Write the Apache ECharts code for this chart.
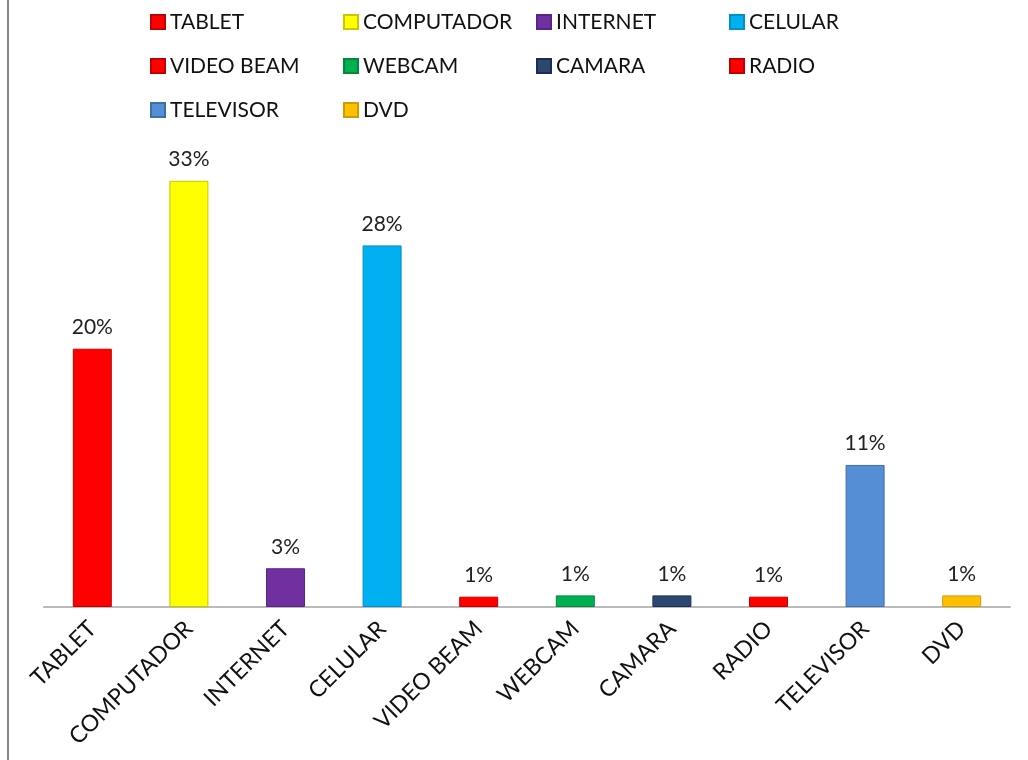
<!DOCTYPE html>
<html lang="es">
<head>
  <meta charset="UTF-8">
  <title>Recursos</title>
  <style>
    html, body { margin: 0; padding: 0; background: #fff; }
  </style>
</head>
<body>
  <div id="main" style="width: 1028px;height:760px;"></div>
  <script src="https://cdn.jsdelivr.net/npm/echarts@6/dist/echarts.min.js"></script>
  <script type="text/javascript">
    // datos
    var categories = ['TABLET', 'COMPUTADOR', 'INTERNET', 'CELULAR', 'VIDEO BEAM', 'WEBCAM', 'CAMARA', 'RADIO', 'TELEVISOR', 'DVD'];
    var values = [20, 33, 3, 28, 0.8, 0.9, 0.9, 0.8, 11, 0.9];
    var labels = ['20%', '33%', '3%', '28%', '1%', '1%', '1%', '1%', '11%', '1%'];
    var colors = ['#ff0000', '#ffff00', '#7030a0', '#00b0f0', '#ff0000', '#00b050', '#2c4870', '#ff0000', '#558ed5', '#ffc000'];
    var borders = ['#c00000', '#c8c800', '#5a2484', '#0090c8', '#c00000', '#00883c', '#1c2e4c', '#c00000', '#3d6fa8', '#d09a00'];

    var myChart = echarts.init(document.getElementById('main'));
    var font = 'Lato';

    var series = categories.map(function (name, i) {
      var data = categories.map(function (c, j) {
        return j === i ? values[i] : null;
      });
      return {
        name: name,
        type: 'bar',
        stack: 'all',
        barWidth: 39,
        data: data,
        itemStyle: {
          color: colors[i],
          borderColor: borders[i],
          borderWidth: 1
        },
        label: {
          show: true,
          position: 'top',
          distance: 11,
          fontFamily: font,
          fontSize: 21,
          color: '#222',
          formatter: function () { return labels[i]; }
        }
      };
    });

    var option = {
      backgroundColor: '#fff',
      animation: false,
      color: colors,
      legend: {
        left: 145,
        top: 5,
        width: 820,
        itemWidth: 14,
        itemHeight: 14,
        itemGap: 20,
        icon: 'rect',
        data: categories,
        textStyle: {
          fontFamily: font,
          fontSize: 21,
          color: '#111',
          width: 153,
          lineHeight: 24,
          overflow: 'none'
        }
      },
      grid: {
        left: 44,
        right: 18,
        top: 155,
        bottom: 153
      },
      xAxis: {
        type: 'category',
        data: categories,
        axisTick: { show: false },
        axisLine: { lineStyle: { color: '#bbbbbb', width: 2 } },
        axisLabel: {
          interval: 0,
          rotate: 45,
          margin: 18,
          fontFamily: font,
          fontSize: 23,
          color: '#111'
        }
      },
      yAxis: {
        type: 'value',
        min: 0,
        max: 35,
        show: false
      },
      graphic: [{
        type: 'line',
        shape: { x1: 8, y1: 0, x2: 8, y2: 760 },
        style: { stroke: '#888888', lineWidth: 2 }
      }],
      series: series
    };

    myChart.setOption(option);
  </script>
</body>
</html>
